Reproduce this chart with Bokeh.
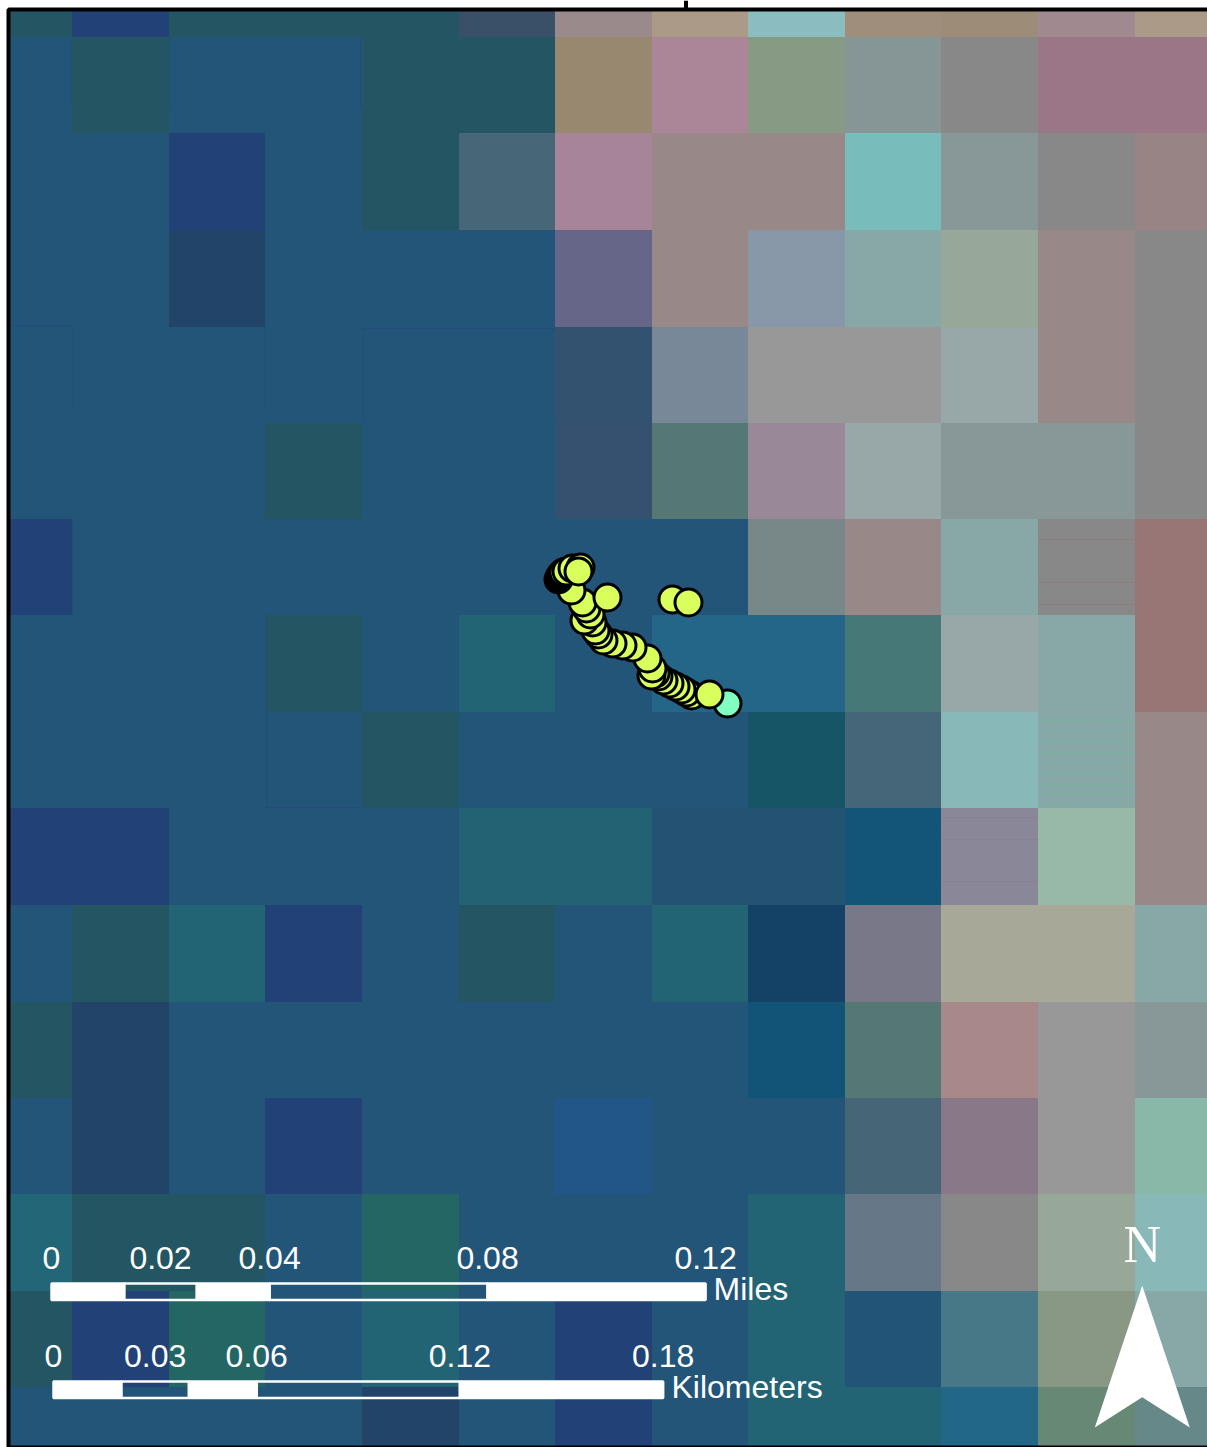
from bokeh.plotting import figure
from bokeh.embed import file_html
from bokeh.resources import INLINE
from bokeh.core.properties import value

# raster grid, map units
col_edges = [10, 72, 169, 265, 362, 459, 555, 652, 748, 845, 941, 1038, 1135, 1207]
row_edges = [11, 37, 133, 230, 327, 423, 519, 615, 712, 808, 905, 1002, 1098, 1194, 1291, 1387, 1445]

B = "#235578"; T = "#235562"; N = "#224277"; D = "#224468"
raster = [
    [T, N, T, T, T, "#3a5068", "#9a8a8c", "#ab9a88", "#8abcc0", "#a08e7c", "#9c8c78", "#a08a90", "#ab9a88"],
    [B, T, B, B, T, T, "#998870", "#aa8698", "#879a84", "#869696", "#888888", "#9a7686", "#9a7686"],
    [B, B, N, B, T, "#476678", "#a88498", "#988888", "#988888", "#78bcbc", "#889898", "#888888", "#988484"],
    [B, B, D, B, B, B, "#666688", "#988888", "#8898a8", "#88a8a8", "#98a898", "#988888", "#888888"],
    [B, B, B, B, B, B, "#32526f", "#788898", "#989898", "#989898", "#98a8a8", "#988888", "#888888"],
    [B, B, B, T, B, B, "#365070", "#567874", "#988898", "#98a8a8", "#889898", "#889898", "#888888"],
    [N, B, B, B, B, B, B, B, "#788888", "#988888", "#88a8a8", "#888888", "#987676"],
    [B, B, B, T, B, "#236474", B, "#236688", "#236688", "#467878", "#98a8a8", "#88a8a8", "#987676"],
    [B, B, B, B, T, B, B, B, "#155566", "#446678", "#88b8b8", "#88a8a8", "#988888"],
    [N, N, B, B, B, "#236272", "#236272", "#235272", "#235272", "#125578", "#8a8898", "#98b8a8", "#988888"],
    [B, T, "#236474", N, B, T, B, "#236474", "#134266", "#787888", "#a8a898", "#a8a898", "#88a8a8"],
    [T, D, B, B, B, B, B, B, "#125478", "#567874", "#a88888", "#989898", "#889898"],
    [B, D, B, N, B, B, "#225588", B, B, "#466678", "#887888", "#989898", "#88b8a8"],
    ["#236678", T, T, B, "#236664", B, B, B, "#236474", "#667888", "#888888", "#98a898", "#88b8b8"],
    [T, N, "#236664", B, "#236474", B, N, B, "#236474", "#225478", "#467888", "#889884", "#88a8a8"],
    [B, B, B, B, D, B, N, B, "#236474", "#236474", "#226688", "#668874", "#668888"],
]

# faint seams in the raster
seam_x0 = [70, 169.5, 360, 10, 73, 265, 362, 363, 266, 266, 72]
seam_x1 = [70, 169.5, 360, 72, 73, 265, 555, 363, 266, 362, 72]
seam_y0 = [37, 37, 37, 325, 327, 327, 328, 327, 615, 807, 519]
seam_y1 = [107, 107, 107, 325, 408, 407, 328, 423, 808, 807, 615]

hatch_a_y = [539, 582, 604]
hatch_b_y = [720, 730, 741, 753, 762, 773, 785, 793, 804]
hatch_c_y = [817, 839, 881]

# tracked positions, in drawing order
track_x = [727, 691, 686, 681, 675, 669, 663, 658, 655, 651, 652, 647, 632, 622, 612, 603, 709, 598, 595,
           592, 584, 590, 586, 582, 571, 558, 559, 560, 561, 562, 563, 607, 566, 572, 580, 578, 672, 688]
track_y = [703, 695, 692, 689, 686, 683, 680, 676, 673, 675, 668, 658, 647, 645, 643, 640, 694, 634, 630,
           622, 620, 614, 608, 602, 590, 579, 577, 575, 574, 573, 572, 597, 571, 568, 567, 571, 599, 602]
track_fill = ["#80ffc0"] + ["#d8ff5c"] * 37

# scale bars
km_per_mile = 1.609344
mile_ticks = [0, 0.02, 0.04, 0.08, 0.12]
km_ticks = [0, 0.03, 0.06, 0.12, 0.18]
mile_breaks = [0, 0.04 / 3, 0.08 / 3, 0.04, 0.08, 0.12]
km_breaks = [0, 0.02, 0.04, 0.06, 0.12, 0.18]
px_per_km = 3387
mile_x0, km_x0 = 50, 52

p = figure(width=1207, height=1447, x_range=(0, 1207), y_range=(1447, 0),
           x_axis_type=None, y_axis_type=None, toolbar_location=None,
           output_backend="svg", min_border=0, outline_line_color=None,
           background_fill_color="white", border_fill_color="white")
p.grid.visible = False

# raster
l, r, t, b, c = [], [], [], [], []
for i, row in enumerate(raster):
    for j, col in enumerate(row):
        l.append(col_edges[j]); r.append(col_edges[j + 1])
        t.append(row_edges[i]); b.append(row_edges[i + 1]); c.append(col)
p.quad(left=l, right=r, top=t, bottom=b, fill_color=c, line_color=c, line_width=1)

p.segment(x0=seam_x0, x1=seam_x1, y0=seam_y0, y1=seam_y1, line_color="#234c7a", line_width=1)
p.segment(x0=[1039] * 3, x1=[1134] * 3, y0=hatch_a_y, y1=hatch_a_y, line_color="#8f7c7c", line_width=1)
p.segment(x0=[1039] * 9, x1=[1134] * 9, y0=hatch_b_y, y1=hatch_b_y, line_color="#74b09c", line_width=2,
          line_dash="3 2")
p.segment(x0=[942] * 3, x1=[1037] * 3, y0=hatch_c_y, y1=hatch_c_y, line_color="#8a8094", line_width=1)

# frame
p.quad(left=[8], right=[1215], top=[9], bottom=[1447], fill_color=None, line_color="black", line_width=4)
p.segment(x0=[685.5], x1=[685.5], y0=[0], y1=[8], line_color="black", line_width=4)

# track
p.scatter(x=track_x, y=track_y, size=27, fill_color=track_fill, line_color="black", line_width=3)

def bar(x0, breaks, top, bottom, scale):
    xs = [x0 + v * scale for v in breaks]
    for k in range(len(xs) - 1):
        fill = "white" if k % 2 == 0 else None
        p.quad(left=[xs[k]], right=[xs[k + 1]], top=[top], bottom=[bottom],
               fill_color=fill, line_color="white", line_width=2.5)

mile_scale = px_per_km * km_per_mile
bar(mile_x0 + 1, mile_breaks, 1283, 1299.5, mile_scale)
bar(km_x0 + 1, km_breaks, 1381, 1397.5, px_per_km)

font = value("Liberation Sans")
size = value("32px")
p.text(x=[mile_x0 + 1 + v * mile_scale for v in mile_ticks], y=[1269] * 5,
       text=["0", "0.02", "0.04", "0.08", "0.12"], text_color="white", text_font=font,
       text_font_size=size, text_align="center", text_baseline="alphabetic", y_offset=-11.5)
p.text(x=[km_x0 + 1 + v * px_per_km for v in km_ticks], y=[1367] * 5,
       text=["0", "0.03", "0.06", "0.12", "0.18"], text_color="white", text_font=font,
       text_font_size=size, text_align="center", text_baseline="alphabetic", y_offset=-11.5)
p.text(x=[713, 671], y=[1299, 1397], text=["Miles", "Kilometers"], text_color="white", text_font=font,
       text_font_size=size, text_align="left", text_baseline="alphabetic", y_offset=-10.5)

# north arrow
p.text(x=[1141.7], y=[1262], text=["N"], text_color="white", text_font=value("Liberation Serif"),
       text_font_size=value("52px"), text_align="center", text_baseline="alphabetic", y_offset=-18)
p.patch(x=[1141.7, 1189.3, 1141.7, 1094.3], y=[1285, 1427, 1396.7, 1427], fill_color="white", line_color=None)

open("out.html", "w").write(file_html(p, INLINE))
